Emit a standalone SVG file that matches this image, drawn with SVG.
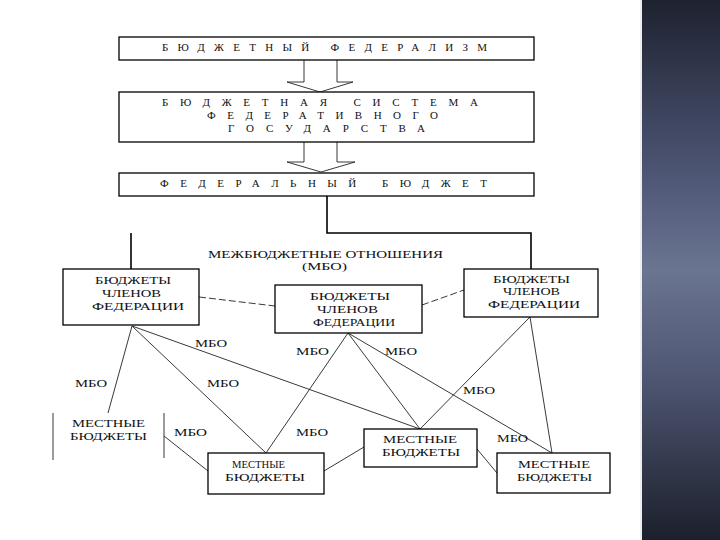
<svg xmlns="http://www.w3.org/2000/svg" width="720" height="540" viewBox="0 0 720 540">
<defs>
<linearGradient id="band" x1="0" y1="0" x2="0" y2="1">
<stop offset="0" stop-color="#1e2230"/>
<stop offset="0.3" stop-color="#4a5270"/>
<stop offset="0.5" stop-color="#6a7592"/>
<stop offset="0.7" stop-color="#4e5672"/>
<stop offset="1" stop-color="#1c202c"/>
</linearGradient>
<style>
.box{fill:#fff;stroke:#000;stroke-width:1.3}
.t{font-family:"Liberation Serif","DejaVu Serif","Times New Roman",serif;font-size:11px;fill:#111;dominant-baseline:central}
.sp{font-size:11px}
.ln{stroke:#222;stroke-width:0.9;fill:none}
.ds{stroke:#222;stroke-width:0.9;fill:none;stroke-dasharray:7 3}
.bk{stroke:#000;stroke-width:1.6;fill:none}
</style>
</defs>
<rect width="720" height="540" fill="#fff"/>
<rect x="642" y="0" width="78" height="540" fill="url(#band)"/>
<line x1="641" y1="0" x2="641" y2="540" stroke="#ddd" stroke-width="1"/>

<g id="connectors">
<path class="ln" d="M304,60 V82 H287 L320,92 L353,82 H337 V60"/>
<path class="ln" d="M304,142 V162 H287 L321,172 L355,162 H337 V142"/>
<path class="bk" d="M327,196 V233 H531 V269"/>
<line class="bk" x1="131" y1="233" x2="131" y2="269"/>
<line class="ds" x1="199" y1="297" x2="275" y2="306"/>
<line class="ds" x1="422" y1="305" x2="464" y2="290"/>
<line class="ln" x1="132" y1="326" x2="108" y2="413"/>
<line class="ln" x1="132" y1="326" x2="266" y2="453"/>
<line class="ln" x1="132" y1="326" x2="420" y2="429"/>
<line class="ln" x1="348" y1="333" x2="266" y2="453"/>
<line class="ln" x1="348" y1="333" x2="420" y2="429"/>
<line class="ln" x1="348" y1="333" x2="552" y2="453"/>
<line class="ln" x1="530" y1="317" x2="420" y2="429"/>
<line class="ln" x1="530" y1="317" x2="552" y2="453"/>
<line class="ln" x1="164" y1="436" x2="208" y2="471"/>
<line class="ln" x1="324" y1="471" x2="364" y2="447"/>
<line class="ln" x1="477" y1="449" x2="497" y2="473"/>
<line class="ln" x1="53" y1="413" x2="53" y2="460"/>
<line class="ln" x1="164" y1="413" x2="164" y2="458"/>
</g>

<g id="labels">
<text class="t" x="208" y="254" textLength="235" lengthAdjust="spacingAndGlyphs">МЕЖБЮДЖЕТНЫЕ ОТНОШЕНИЯ</text>
<text class="t" x="302" y="266" textLength="45" lengthAdjust="spacingAndGlyphs">(МБО)</text>
<text class="t" x="195" y="343" textLength="32" lengthAdjust="spacingAndGlyphs">МБО</text>
<text class="t" x="75" y="383" textLength="32" lengthAdjust="spacingAndGlyphs">МБО</text>
<text class="t" x="207" y="383" textLength="32" lengthAdjust="spacingAndGlyphs">МБО</text>
<text class="t" x="296" y="351" textLength="33" lengthAdjust="spacingAndGlyphs">МБО</text>
<text class="t" x="385" y="351" textLength="32" lengthAdjust="spacingAndGlyphs">МБО</text>
<text class="t" x="463" y="390" textLength="32" lengthAdjust="spacingAndGlyphs">МБО</text>
<text class="t" x="174" y="432" textLength="33" lengthAdjust="spacingAndGlyphs">МБО</text>
<text class="t" x="296" y="432" textLength="32" lengthAdjust="spacingAndGlyphs">МБО</text>
<text class="t" x="497" y="438" textLength="31" lengthAdjust="spacingAndGlyphs">МБО</text>
</g>

<g id="n-federalism">
<rect class="box" x="119" y="37" width="415" height="23"/>
<text class="t sp" x="162" y="47" textLength="325" lengthAdjust="spacing">БЮДЖЕТНЫЙ ФЕДЕРАЛИЗМ</text>
</g>
<g id="n-system">
<rect class="box" x="119" y="92" width="415" height="50"/>
<text class="t sp" x="162" y="102" textLength="316" lengthAdjust="spacing">БЮДЖЕТНАЯ СИСТЕМА</text>
<text class="t sp" x="207" y="115" textLength="231" lengthAdjust="spacing">ФЕДЕРАТИВНОГО</text>
<text class="t sp" x="228" y="128" textLength="197" lengthAdjust="spacing">ГОСУДАРСТВА</text>
</g>
<g id="n-federal-budget">
<rect class="box" x="119" y="173" width="415" height="23"/>
<text class="t sp" x="160" y="183" textLength="327" lengthAdjust="spacing">ФЕДЕРАЛЬНЫЙ БЮДЖЕТ</text>
</g>

<g id="n-members-left">
<rect class="box" x="63" y="269" width="136" height="56"/>
<text class="t" x="95" y="280" textLength="76" lengthAdjust="spacingAndGlyphs">БЮДЖЕТЫ</text>
<text class="t" x="102" y="293" textLength="59" lengthAdjust="spacingAndGlyphs">ЧЛЕНОВ</text>
<text class="t" x="92" y="306" textLength="92" lengthAdjust="spacingAndGlyphs">ФЕДЕРАЦИИ</text>
</g>
<g id="n-members-mid">
<rect class="box" x="275" y="285" width="147" height="48"/>
<text class="t" x="310" y="296" textLength="80" lengthAdjust="spacingAndGlyphs">БЮДЖЕТЫ</text>
<text class="t" x="317" y="309" textLength="61" lengthAdjust="spacingAndGlyphs">ЧЛЕНОВ</text>
<text class="t" x="313" y="322" textLength="82" lengthAdjust="spacingAndGlyphs">ФЕДЕРАЦИИ</text>
</g>
<g id="n-members-right">
<rect class="box" x="464" y="269" width="134" height="48"/>
<text class="t" x="493" y="279" textLength="77" lengthAdjust="spacingAndGlyphs">БЮДЖЕТЫ</text>
<text class="t" x="503" y="291" textLength="57" lengthAdjust="spacingAndGlyphs">ЧЛЕНОВ</text>
<text class="t" x="488" y="304" textLength="92" lengthAdjust="spacingAndGlyphs">ФЕДЕРАЦИИ</text>
</g>

<g id="n-local-open">
<text class="t" x="72" y="423" textLength="73" lengthAdjust="spacingAndGlyphs">МЕСТНЫЕ</text>
<text class="t" x="70" y="436" textLength="77" lengthAdjust="spacingAndGlyphs">БЮДЖЕТЫ</text>
</g>
<g id="n-local-1">
<rect class="box" x="208" y="453" width="116" height="41"/>
<text class="t" x="232" y="464" textLength="53" lengthAdjust="spacingAndGlyphs">МЕСТНЫЕ</text>
<text class="t" x="225" y="477" textLength="80" lengthAdjust="spacingAndGlyphs">БЮДЖЕТЫ</text>
</g>
<g id="n-local-2">
<rect class="box" x="364" y="429" width="113" height="38"/>
<text class="t" x="383" y="439" textLength="74" lengthAdjust="spacingAndGlyphs">МЕСТНЫЕ</text>
<text class="t" x="382" y="452" textLength="78" lengthAdjust="spacingAndGlyphs">БЮДЖЕТЫ</text>
</g>
<g id="n-local-3">
<rect class="box" x="497" y="453" width="113" height="40"/>
<text class="t" x="518" y="464" textLength="72" lengthAdjust="spacingAndGlyphs">МЕСТНЫЕ</text>
<text class="t" x="517" y="477" textLength="75" lengthAdjust="spacingAndGlyphs">БЮДЖЕТЫ</text>
</g>
</svg>
